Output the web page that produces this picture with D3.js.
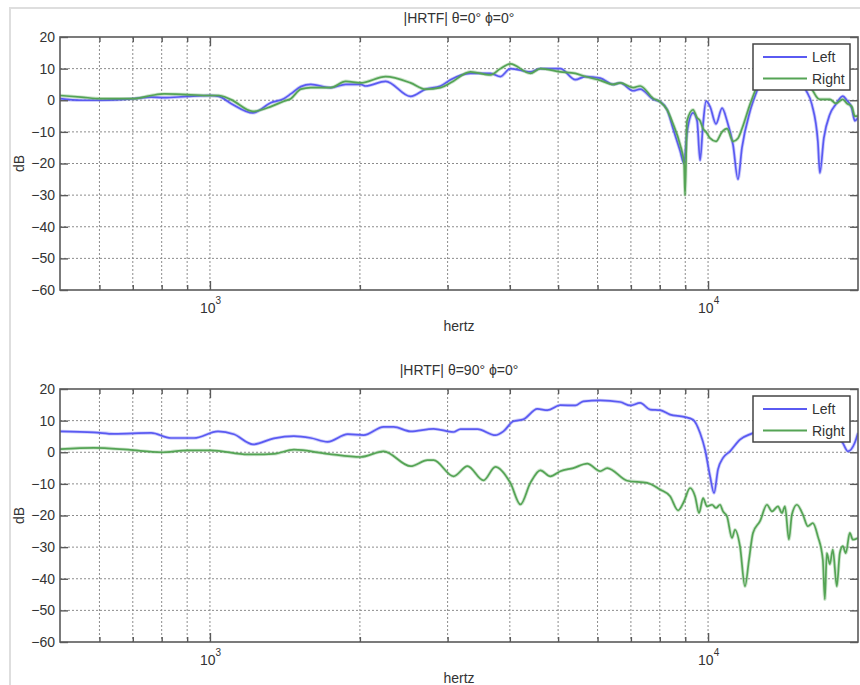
<!DOCTYPE html>
<html>
<head>
<meta charset="utf-8">
<script src="https://cdn.jsdelivr.net/npm/d3@7"></script>
<style>
body { margin: 0; background: #fff; }
text { font-family: "Liberation Sans", Arial, sans-serif; fill: #333; }
</style>
</head>
<body>
<div class="chart"></div>
<script>
// titles, legend names, ticks
var titles = ["|HRTF| θ=0° ϕ=0°", "|HRTF| θ=90° ϕ=0°"];
var seriesNames = ["Left", "Right"];
var dbTicks = [-60, -50, -40, -30, -20, -10, 0, 10, 20];
var majorTicks = [1000, 10000];
var minorTicks = [600, 700, 800, 900, 2000, 3000, 4000, 5000, 6000, 7000, 8000, 9000];

// [hertz, dB]
var topLeft = [[500,0.5],[551,0],[605,0],[704,0.5],[762,1],[809,0.8],[899,1.2],[1000,1.5],[1042,1.2],[1102,-1],[1220,-4],
  [1325,-0.8],[1407,0.5],[1453,2],[1522,4.3],[1594,5],[1747,4],[1873,5],[2007,5],[2054,4.5],[2253,6],[2528,1.2],[2710,3.5],
  [2904,4.5],[3041,6.5],[3334,8.5],[3657,8.5],[3830,7.5],[4010,10],[4398,9],[4606,10],[5051,10],[5414,6.5],[5669,7.5],
  [6075,7],[6450,5],[6662,5.5],[7075,3],[7307,3.5],[7759,0.3],[8013,-0.5],[8276,-3],[8508,-9],[8787,-16],[8950,-20],
  [9075,-10],[9329,-4],[9505,-6.5],[9638,-19],[9772,-7.5],[9908,-0.3],[10093,-2],[10375,-7.5],[10668,-2.5],[10916,-6.5],
  [11222,-14],[11484,-25],[11698,-15],[12140,-3.5],[12538,3],[12890,8],[13500,11],[14500,12],[15289,9],[15645,4],
  [16158,-1.3],[16612,-13],[16766,-23],[17078,-12],[17557,-4.5],[18051,-1.3],[18644,1.3],[18992,0],[19435,-2.5],
  [19705,-6.5],[20000,-5.5]];

var topRight = [[500,1.5],[551,1],[605,0.5],[704,0.5],[762,1.5],[809,2],[899,1.8],[1000,1.5],[1042,1.5],[1102,0.2],[1220,-3.5],
  [1325,-2],[1407,-0.3],[1453,0.5],[1522,3.5],[1594,4],[1747,4],[1873,6],[2007,5.5],[2253,7.5],[2528,5.5],[2710,3.5],
  [2904,4],[3041,5.5],[3334,9],[3657,8],[3830,10],[4010,11.5],[4398,8.5],[4606,10],[5051,9],[5414,8.5],[5669,7.5],
  [6075,6.3],[6450,5],[6662,5.5],[7075,4],[7307,4.5],[7759,0.6],[8013,-0.5],[8276,-3],[8508,-7.5],[8787,-14],[8950,-20],
  [8992,-30],[9075,-6.5],[9329,-3],[9505,-5.5],[9638,-6.5],[9772,-9],[9908,-10],[10093,-12],[10375,-13],[10668,-10],
  [10916,-9],[11222,-13],[11484,-12],[11698,-9],[12140,-1.3],[12538,4.5],[12890,9],[13500,12],[14500,11],[15289,8],
  [15645,6],[16158,3.5],[16612,0.6],[16766,0.3],[17557,0.3],[18051,-1],[18644,0.3],[18992,-1],[19435,-2],[19705,-5],
  [20000,-5]];

var bottomLeft = [[500,6.6],[585,6.3],[642,5.8],[762,6.1],[835,4.5],[929,4.5],[1038,6.6],[1117,5.7],[1220,2.5],[1344,4.4],
  [1474,5.1],[1594,4.5],[1723,3.3],[1891,5.7],[2035,5.4],[2232,8],[2338,8],[2528,6.6],[2812,7.4],[3083,6.4],[3184,7.3],
  [3444,7.3],[3742,5.4],[3883,6.6],[4066,9.8],[4259,10.4],[4543,13.7],[4758,13.3],[5051,14.9],[5414,14.8],[5617,16.1],
  [6075,16.4],[6662,15.9],[6978,14.8],[7307,15.6],[7652,13.5],[8013,13.3],[8391,11.9],[8950,11.2],[9329,10.3],[9638,6.1],
  [9863,0.8],[10093,-7.6],[10280,-12.9],[10471,-5.4],[10717,-1.8],[11068,0.3],[11590,4],[12309,6.1],[13313,9],
  [14600,11],[16010,11],[17557,7],[18644,2.9],[19080,0.3],[19705,3],[20000,6.1]];

var bottomRight = [[500,1],[585,1.4],[685,0.8],[798,0],[903,0.6],[1005,0.6],[1192,-0.7],[1344,-0.5],[1474,0.8],[1723,-0.5],
  [2007,-1.5],[2232,0.3],[2528,-4.4],[2735,-2.5],[2812,-2.5],[3083,-7.6],[3289,-4.4],[3541,-8.9],[3742,-4.6],[4010,-9.7],
  [4200,-16.5],[4398,-9.7],[4606,-5.7],[4824,-7.6],[5051,-6],[5364,-5],[5722,-3.6],[6075,-6],[6275,-5],[6882,-9],
  [7547,-9.7],[8013,-11.8],[8391,-13.9],[8707,-18.4],[8950,-15.5],[9201,-11.3],[9416,-13.9],[9593,-19.2],[9772,-14.5],
  [9954,-17.1],[10186,-16.6],[10375,-17.6],[10568,-16.6],[10717,-18.7],[10916,-20.3],[11171,-27.1],[11326,-24.5],
  [11590,-29.7],[11861,-42.4],[12084,-34],[12309,-25.5],[12713,-21.8],[13130,-16.6],[13439,-18.7],[13815,-17.1],
  [14072,-19.2],[14267,-17.1],[14533,-27.6],[14735,-19.7],[15079,-16.6],[15502,-19.7],[15863,-23.4],[16233,-22.4],
  [16612,-26.6],[17000,-34],[17157,-46.5],[17316,-31.9],[17557,-35.4],[17802,-30.8],[18134,-42.4],[18387,-31.9],
  [18644,-29.7],[18905,-31.9],[19257,-25.5],[19525,-27.6],[20000,-27.1]];

var colors = ["#5a5af2", "#55a455"];
var axisColor = "#5a5a5a";

var svg = d3.select(".chart")
    .append("svg")
    .attr("width", 860)
    .attr("height", 685);

// light border of the figure window
svg.append("path")
    .attr("d", "M10,685 V8 H860")
    .attr("fill", "none")
    .attr("stroke", "#dedede")
    .attr("stroke-width", 2);

var x = d3.scaleLog().domain([500, 20000]).range([60, 858]);

var panels = [
    { top: 37, bottom: 290, title: titles[0], series: [topLeft, topRight] },
    { top: 389, bottom: 642, title: titles[1], series: [bottomLeft, bottomRight] }
];

panels.forEach(function (p, pi) {
    var y = d3.scaleLinear().domain([-60, 20]).range([p.bottom, p.top]);
    var g = svg.append("g");

    //////////
    // GRID //
    //////////
    g.selectAll(".hgrid")
        .data(dbTicks.slice(1, -1))
        .enter()
        .append("line")
        .attr("x1", x.range()[0]).attr("x2", x.range()[1])
        .attr("y1", function (d) { return y(d); })
        .attr("y2", function (d) { return y(d); })
        .attr("stroke", "#8c8c8c")
        .attr("stroke-dasharray", "2,2");

    g.selectAll(".vgrid")
        .data(minorTicks.concat(majorTicks))
        .enter()
        .append("line")
        .attr("x1", function (d) { return x(d); })
        .attr("x2", function (d) { return x(d); })
        .attr("y1", p.top).attr("y2", p.bottom)
        .attr("stroke", "#8c8c8c")
        .attr("stroke-dasharray", "2,2");

    //////////
    // LINES //
    //////////
    var clipId = "clip" + pi;
    svg.append("defs").append("clipPath").attr("id", clipId)
        .append("rect")
        .attr("x", 60).attr("y", p.top)
        .attr("width", 798).attr("height", p.bottom - p.top);

    var line = d3.line()
        .curve(d3.curveMonotoneX)
        .x(function (d) { return x(d[0]); })
        .y(function (d) { return y(d[1]); });

    var lines = g.append("g").attr("clip-path", "url(#" + clipId + ")");
    p.series.forEach(function (s, i) {
        // soft halo, then the line itself
        lines.append("path").attr("d", line(s)).attr("fill", "none")
            .attr("stroke", colors[i]).attr("stroke-opacity", 0.3).attr("stroke-width", 3.4);
        lines.append("path").attr("d", line(s)).attr("fill", "none")
            .attr("stroke", colors[i]).attr("stroke-width", 1.7);
    });

    //////////
    // AXIS //
    //////////
    var yAx = g.append("g")
        .attr("transform", "translate(60,0)")
        .call(d3.axisLeft(y).tickValues(dbTicks).tickSize(-8).tickPadding(5));
    var yAxR = g.append("g")
        .attr("transform", "translate(858,0)")
        .call(d3.axisRight(y).tickValues(dbTicks).tickSize(-8).tickFormat(""));
    var xMinB = g.append("g")
        .attr("transform", "translate(0," + p.bottom + ")")
        .call(d3.axisBottom(x).tickValues(minorTicks).tickSize(-5).tickFormat(""));
    var xMajB = g.append("g")
        .attr("transform", "translate(0," + p.bottom + ")")
        .call(d3.axisBottom(x).tickValues(majorTicks).tickSize(-9).tickFormat(""));
    var xMinT = g.append("g")
        .attr("transform", "translate(0," + p.top + ")")
        .call(d3.axisTop(x).tickValues(minorTicks).tickSize(-5).tickFormat(""));
    var xMajT = g.append("g")
        .attr("transform", "translate(0," + p.top + ")")
        .call(d3.axisTop(x).tickValues(majorTicks).tickSize(-9).tickFormat(""));

    [yAx, yAxR, xMinB, xMajB, xMinT, xMajT].forEach(function (a) {
        a.select(".domain").remove();
        a.selectAll("line").attr("stroke", axisColor).attr("stroke-width", 1.4);
        a.selectAll("text").attr("fill", "#333").style("font-size", "14px")
            .style("font-family", "'Liberation Sans', Arial, sans-serif");
    });

    // frame
    g.append("rect")
        .attr("x", 60).attr("y", p.top)
        .attr("width", 798).attr("height", p.bottom - p.top)
        .attr("fill", "none")
        .attr("stroke", axisColor)
        .attr("stroke-width", 1.6);

    // 10^3 and 10^4 labels
    majorTicks.forEach(function (t) {
        var lab = g.append("text")
            .attr("x", x(t) - 10)
            .attr("y", p.bottom + 23)
            .style("font-size", "14px");
        lab.append("tspan").text("10");
        lab.append("tspan")
            .attr("dy", -9)
            .style("font-size", "10px")
            .text(Math.round(Math.log10(t)));
    });

    // title and axis labels
    g.append("text")
        .attr("x", 459).attr("y", p.top - 14)
        .attr("text-anchor", "middle")
        .style("font-size", "14px")
        .text(p.title);

    g.append("text")
        .attr("x", 459).attr("y", p.bottom + 41)
        .attr("text-anchor", "middle")
        .style("font-size", "14px")
        .text("hertz");

    g.append("text")
        .attr("transform", "translate(24," + (p.top + p.bottom) / 2 + ") rotate(-90)")
        .attr("text-anchor", "middle")
        .style("font-size", "14px")
        .text("dB");

    //////////
    // LEGEND //
    //////////
    var leg = g.append("g").attr("transform", "translate(753," + (p.top + 7) + ")");
    leg.append("rect")
        .attr("width", 97).attr("height", 46)
        .attr("fill", "#fff")
        .attr("stroke", "#444")
        .attr("stroke-width", 1.5);
    seriesNames.forEach(function (name, i) {
        var ly = 13 + i * 21.5;
        leg.append("line")
            .attr("x1", 10).attr("x2", 54)
            .attr("y1", ly).attr("y2", ly)
            .attr("stroke", colors[i])
            .attr("stroke-width", 2);
        leg.append("text")
            .attr("x", 59).attr("y", ly + 5)
            .style("font-size", "14px")
            .text(name);
    });
});
</script>
</body>
</html>
